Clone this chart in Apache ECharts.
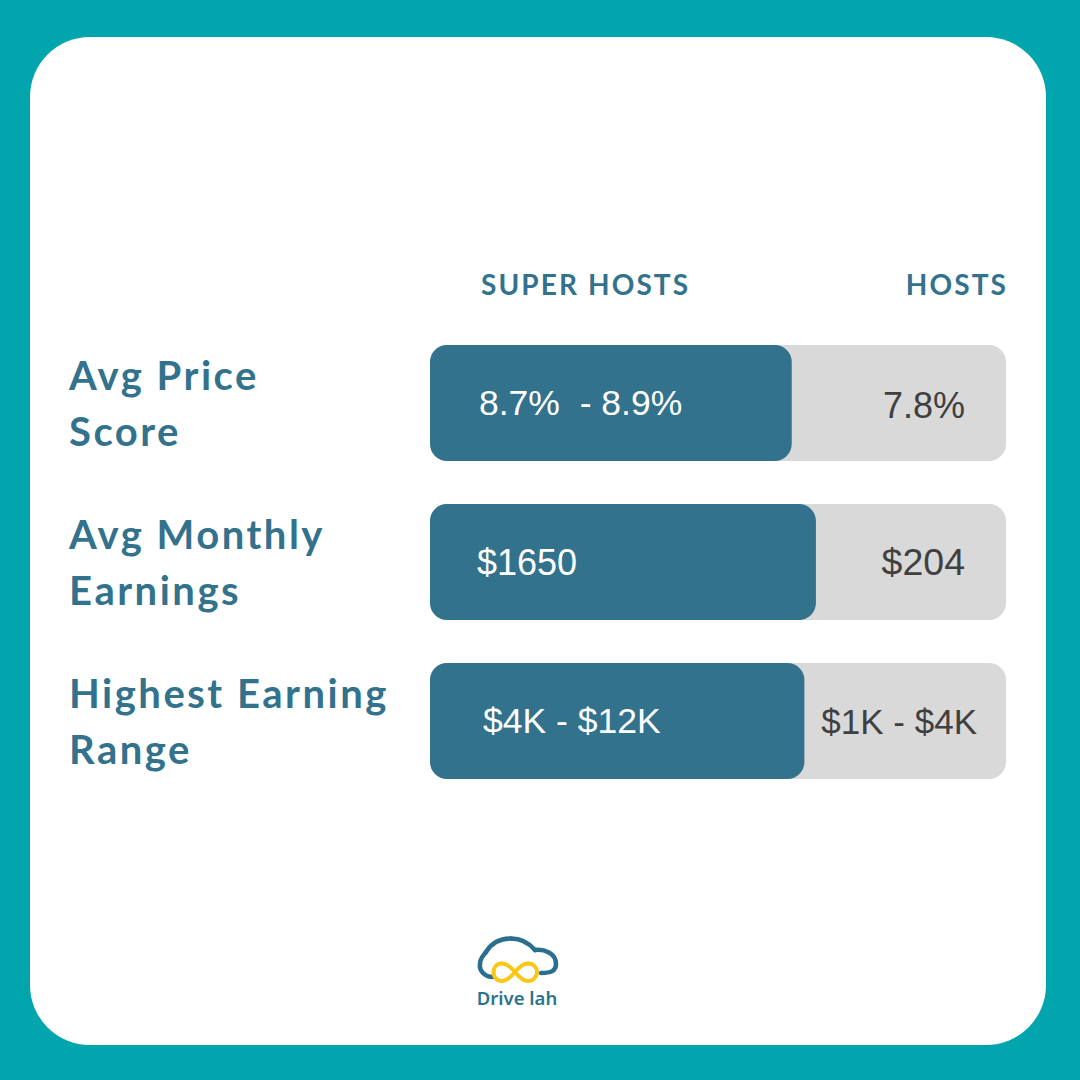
<!DOCTYPE html>
<html>
<head>
<meta charset="utf-8">
<style>
html,body{margin:0;padding:0;background:#00A5AE;}
#c{width:1080px;height:1080px;}
svg text[style*="Lato"]{letter-spacing:2.1px;}
svg text[style*="40px"]{letter-spacing:2.5px;}
</style>
<script src="https://cdn.jsdelivr.net/npm/echarts@6/dist/echarts.min.js"></script>
</head>
<body>
<div id="c"></div>
<script>
const categories = ['Avg Price\nScore', 'Avg Monthly\nEarnings', 'Highest Earning\nRange'];
const superHostShare = [62.8, 67, 65];
const hostsTrack = [100, 100, 100];
const superHostLabels = ['8.7%  - 8.9%', '$1650', '$4K - $12K'];
const hostLabels = ['7.8%', '$204', '$1K - $4K'];
const columnHeads = ['SUPER HOSTS', 'HOSTS'];

const BLUE = '#33728C', GREY = '#D9D9D9', DARK = '#404040';
const valueFont = {fontFamily: '"Liberation Sans"', fontWeight: 'normal'};
const superDist = [49, 47, 53];
const superSize = [35.5, 36, 35.5];
const hostDist = [41, 41, 29];
const hostSize = [36, 37.5, 35];
const hostDy = [2, 0, 0];

function logoCurves(points, stroke, lineWidth, z) {
  const out = [];
  for (let i = 0; i + 3 < points.length; i += 3) {
    out.push({type: 'bezierCurve', z: z, shape: {
      x1: points[i][0], y1: points[i][1],
      cpx1: points[i+1][0], cpy1: points[i+1][1],
      cpx2: points[i+2][0], cpy2: points[i+2][1],
      x2: points[i+3][0], y2: points[i+3][1]
    }, style: {fill: 'none', stroke: stroke, lineWidth: lineWidth, lineCap: 'round'}});
  }
  return out;
}
const carOutline = [[493,977],[484,977],[479,970],[480,964],[480,958],[484,955],[486,952],[492,942],[500,938.5],[511,938.5],[520,938.5],[529,943],[535,950],[544,949],[556,953],[556,964],[556,971],[551,973],[541,973]];
const infinity = [[515,972],[510,966],[506,963.5],[502,963.5],[496,963.5],[493.5,968],[493.5,972],[493.5,976],[496,981],[502,981],[507,981],[511,977],[515,972],[520,966],[524,963.5],[528,963.5],[534,963.5],[537,968],[537,972],[537,976],[534,981],[528,981],[523,981],[519,977],[515,972]];

const chart = echarts.init(document.getElementById('c'), null, {renderer: 'svg', width: 1080, height: 1080});
chart.setOption({
  animation: false,
  backgroundColor: '#00A5AE',
  grid: {left: 430, top: 323.5, width: 576, height: 477, containLabel: false},
  xAxis: {type: 'value', min: 0, max: 100, show: false},
  yAxis: {
    type: 'category', inverse: true, data: categories,
    axisLine: {show: false}, axisTick: {show: false},
    axisLabel: {
      margin: 361, align: 'left', interval: 0,
      color: BLUE, fontFamily: 'Lato', fontSize: 40, fontWeight: 'bold', lineHeight: 56,
      padding: [0, 0, 4, 0]
    }
  },
  series: [
    {
      type: 'bar', name: 'Hosts', data: hostsTrack.map((v, i) => ({
        value: v,
        label: {show: true, formatter: hostLabels[i], position: 'insideRight',
          distance: hostDist[i], offset: [0, hostDy[i]], color: DARK, fontSize: hostSize[i], ...valueFont}
      })),
      barWidth: 116, barGap: '-100%', z: 2,
      itemStyle: {color: GREY, borderRadius: 17}
    },
    {
      type: 'bar', name: 'Super hosts', data: superHostShare.map((v, i) => ({
        value: v,
        label: {show: true, formatter: superHostLabels[i], position: 'insideLeft',
          distance: superDist[i], color: '#FFFFFF', fontSize: superSize[i], ...valueFont}
      })),
      barWidth: 116, z: 3,
      itemStyle: {color: BLUE, borderRadius: 17}
    }
  ],
  graphic: [
    {type: 'rect', z: -10, shape: {x: 30, y: 37, width: 1016, height: 1008, r: 60}, style: {fill: '#FFFFFF'}},
    {type: 'text', z: 5, x: 481, y: 284, style: {text: columnHeads[0], fill: BLUE, font: 'bold 28px Lato', textAlign: 'left', textVerticalAlign: 'middle'}},
    {type: 'text', z: 5, x: 1008, y: 284, style: {text: columnHeads[1], fill: BLUE, font: 'bold 28px Lato', textAlign: 'right', textVerticalAlign: 'middle'}},
    ...logoCurves(carOutline, '#2A6F8E', 4.5, 5),
    ...logoCurves(infinity, '#F7C815', 4, 6),
    {type: 'text', z: 5, x: 517, y: 997, style: {text: 'Drive lah', fill: '#2A7391', font: '600 18.5px "Noto Sans"', textAlign: 'center', textVerticalAlign: 'middle'}}
  ]
});
</script>
</body>
</html>
